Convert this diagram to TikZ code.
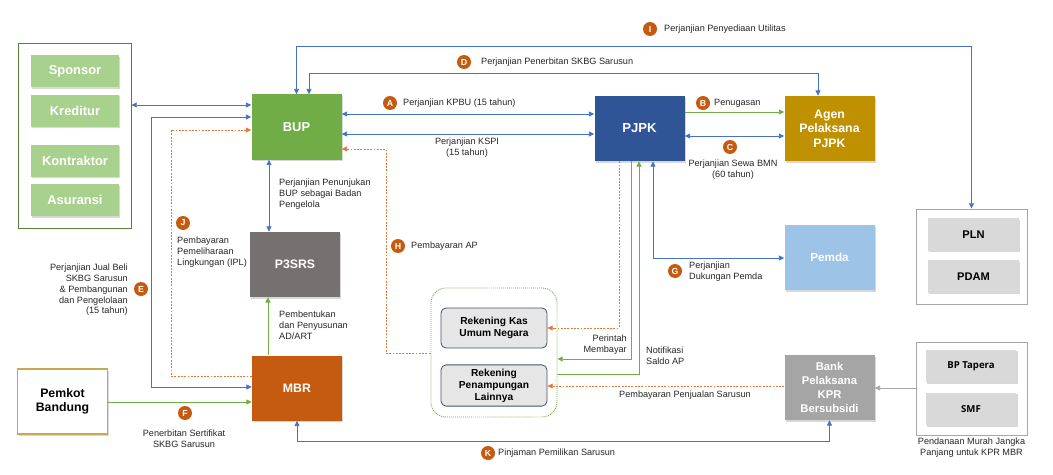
\documentclass[tikz,border=0pt]{standalone}
\usepackage{fontspec}
\setmainfont{Liberation Sans}
\newfontfamily\opensans{Open Sans}
\usepackage{tikz}
\usetikzlibrary{arrows.meta,shadows}
\definecolor{ink}{HTML}{262626}
\definecolor{bupc}{HTML}{70AD47}
\definecolor{subc}{HTML}{A9D18E}
\definecolor{grpc}{HTML}{548235}
\definecolor{pjpkc}{HTML}{2F5597}
\definecolor{agenc}{HTML}{BF9000}
\definecolor{pemdac}{HTML}{9DC3E6}
\definecolor{p3c}{HTML}{767171}
\definecolor{mbrc}{HTML}{C55A11}
\definecolor{bankc}{HTML}{A5A5A5}
\definecolor{utilc}{HTML}{D9D9D9}
\definecolor{framec}{HTML}{A6A6A6}
\definecolor{pemkotc}{HTML}{C9A94F}
\definecolor{rekc}{HTML}{E7E6E6}
\definecolor{rekln}{HTML}{44546A}
\definecolor{blueln}{HTML}{4472C4}
\definecolor{greenln}{HTML}{70AD47}
\definecolor{orangeln}{HTML}{E07A3A}
\definecolor{badgec}{HTML}{C55A11}
\tikzset{
  >={Triangle[length=4.5pt,width=4.2pt]},
  shade/.style={drop shadow={shadow xshift=1pt,shadow yshift=-1.3pt,opacity=0.3}},
  box/.style={shade, minimum width=2.7cm, minimum height=1.95cm, align=center, text=white,
    font=\fontsize{10.5}{12.4}\selectfont\bfseries},
  sub/.style={shade, fill=subc, minimum width=2.64cm, minimum height=0.96cm, text=white,
    font=\fontsize{11}{13}\selectfont\bfseries},
  util/.style={shade, fill=utilc, minimum width=2.72cm, minimum height=0.98cm, text=black,
    font=\fontsize{9.5}{11}\selectfont\bfseries},
  frame/.style={draw=framec, line width=0.8pt},
  rekbox/.style={draw=rekln, fill=rekc, line width=0.7pt, rounded corners=0.15cm,
    minimum width=3.18cm, align=center, font=\fontsize{8.7}{10.2}\selectfont\bfseries},
  badge/.style={circle, fill=badgec, text=white, inner sep=0pt, minimum size=0.42cm,
    font=\fontsize{7.5}{7.5}\selectfont\bfseries},
  lab/.style={text=ink, inner sep=0pt, font=\fontsize{7.8}{9.2}\selectfont},
  blu/.style={draw=blueln, line width=0.6pt},
  grn/.style={draw=greenln, line width=0.6pt},
  org/.style={draw=orangeln, line width=0.6pt, dash pattern=on 1.6pt off 1.2pt},
  gry/.style={draw=framec, line width=0.6pt},
}
\begin{document}
\begin{tikzpicture}[x=0.03cm,y=-0.03cm]
  \fill[white] (0,0) rectangle (1053,475);
  % frames
  \node[frame, draw=grpc, minimum width=3.39cm, minimum height=5.55cm] (grp) at (74.5,135.5) {};
  \node[frame, minimum width=3.33cm, minimum height=2.85cm] (util) at (971.5,256.5) {};
  \node[frame, minimum width=3.33cm, minimum height=2.79cm] (fund) at (971.5,388.5) {};
  \node[draw=bupc, line width=0.8pt, dash pattern=on 0.8pt off 0.9pt, rounded corners=0.45cm,
    minimum width=3.78cm, minimum height=3.87cm] (rek) at (494,352.5) {};
  \foreach \n/\t/\y in {spon/Sponsor/71, kred/Kreditur/110.5, kont/Kontraktor/160.5, asur/Asuransi/200}
    \node[sub] (\n) at (75,\y) {\t};
  \node[util] (PLN) at (973.5,234.5) {PLN};
  \node[util] (PDAM) at (973.5,276.5) {PDAM};
  \node[util, font=\opensans\fontsize{8.2}{10}\selectfont\bfseries] (tapera) at (971,366) {BP Tapera};
  \node[util, font=\opensans\fontsize{8.2}{10}\selectfont\bfseries] (SMF) at (971,409) {SMF};
  % main boxes
  \node[box, fill=bupc, font=\fontsize{11}{13}\selectfont\bfseries] (BUP) at (296.5,127) {BUP};
  \node[box, fill=pjpkc, font=\fontsize{11.2}{13}\selectfont\bfseries] (PJPK) at (639.5,128.5) {PJPK};
  \node[box, fill=agenc] (agen) at (829.5,128.5) {Agen\\Pelaksana\\PJPK};
  \node[box, fill=pemdac, font=\fontsize{10}{12}\selectfont\bfseries] (pemda) at (829.5,257.5) {Pemda};
  \node[box, fill=p3c] (P3SRS) at (295,264.5) {P3SRS};
  \node[box, fill=mbrc] (MBR) at (297,388) {MBR};
  \node[box, fill=bankc, font=\fontsize{9.6}{11.9}\selectfont\bfseries] (bank) at (829.5,387.5) {Bank\\Pelaksana\\KPR\\Bersubsidi};
  \node[box, fill=white, draw=pemkotc, line width=0.9pt, text=black] (pemkot) at (62.5,401.5) {Pemkot\\Bandung};
  \node[rekbox, minimum height=1.2cm] (kas) at (494,328) {Rekening Kas\\Umum Negara};
  \node[rekbox, minimum height=1.17cm] (pen) at (494,385.5) {Rekening\\Penampungan\\Lainnya};
  % connectors
  \draw[blu,<->] (grp.east |- 0,105) -- (BUP.west |- 0,105);
  \draw[blu,<->] (BUP.east |- 0,114) -- (PJPK.west |- 0,114);
  \draw[blu,<->] (BUP.east |- 0,134) -- (PJPK.west |- 0,134);
  \draw[grn,->] (PJPK.east |- 0,112) -- (agen.west |- 0,112);
  \draw[blu,<->] (PJPK.east |- 0,136) -- (agen.west |- 0,136);
  \draw[blu,<->] (BUP.north) -- (BUP.north |- 0,46) -| (util.north);
  \draw[blu,<->] (BUP.north -| 309,0) -- (309,73) -- (818,73) -- (agen.north -| 818,0);
  \draw[blu,<->] (MBR.west |- 0,387) -| (151,117) -- (BUP.west |- 0,117);
  \draw[org,->] (MBR.west |- 0,376) -| (171,130) -- (BUP.west |- 0,130);
  \draw[grn,->] (pemkot.east |- 0,402) -- (MBR.west |- 0,402);
  \draw[blu,<->] (BUP.south -| 269,0) -- (P3SRS.north -| 269,0);
  \draw[grn,->] (MBR.north -| 268,0) -- (P3SRS.south -| 268,0);
  \draw[blu,<->] (MBR.south) -- (MBR.south |- 0,441) -| (bank.south);
  \draw[org,->] (rek.west |- 0,353) -| (386,149) -- (BUP.east |- 0,149);
  \draw[org,->] (PJPK.south -| 619,0) |- (kas.east);
  \draw[grn,->] (PJPK.south -| 631,0) |- (rek.east |- 0,359);
  \draw[grn,->] (rek.east |- 0,374) -| (PJPK.south -| 639,0);
  \draw[blu,<->] (pemda.west |- 0,258) -| (PJPK.south -| 653,0);
  \draw[org,->] (bank.west |- 0,386) -- (pen.east |- 0,386);
  \draw[gry,->] (fund.west |- 0,388) -- (bank.east |- 0,388);
  % badges
  \foreach \l/\x/\y in {A/390/103, B/703/103, C/730/147, D/464/62, E/141/289, F/185/413,
      G/675/271, H/398/246, I/650/29, J/183/223, K/488/453}
    \node[badge] (b\l) at (\x,\y) {\l};
  % labels
  \node[lab, anchor=west] (tA) at (403,103) {Perjanjian KPBU (15 tahun)};
  \node[lab, anchor=west] (tB) at (714,103) {Penugasan};
  \node[lab, align=center] (tC) at (733,170) {Perjanjian Sewa BMN\\(60 tahun)};
  \node[lab, anchor=west] (tD) at (481,62) {Perjanjian Penerbitan SKBG Sarusun};
  \node[lab, align=right, anchor=east] (tE) at (128,290) {Perjanjian Jual Beli\\SKBG Sarusun\\\& Pembangunan\\dan Pengelolaan\\(15 tahun)};
  \node[lab, align=center] (tF) at (184,439) {Penerbitan Sertifikat\\SKBG Sarusun};
  \node[lab, align=left, anchor=west] (tG) at (689,272) {Perjanjian\\Dukungan Pemda};
  \node[lab, anchor=west] (tH) at (411,246) {Pembayaran AP};
  \node[lab, anchor=west] (tI) at (664,29) {Perjanjian Penyediaan Utilitas};
  \node[lab, align=left, anchor=west] (tJ) at (177,252) {Pembayaran\\Pemeliharaan\\Lingkungan (IPL)};
  \node[lab, anchor=west] (tK) at (498,453) {Pinjaman Pemilikan Sarusun};
  \node[lab, align=center] (tKSPI) at (467,148) {Perjanjian KSPI\\(15 tahun)};
  \node[lab, align=left, anchor=west] (tTunjuk) at (279,194) {Perjanjian Penunjukan\\BUP sebagai Badan\\Pengelola};
  \node[lab, align=left, anchor=west] (tBentuk) at (279,325) {Pembentukan\\dan Penyusunan\\AD/ART};
  \node[lab, align=right, anchor=east] (tPerintah) at (627,345) {Perintah\\Membayar};
  \node[lab, align=left, anchor=west] (tNotif) at (646,356) {Notifikasi\\Saldo AP};
  \node[lab] (tJual) at (685,395) {Pembayaran Penjualan Sarusun};
  \node[lab, align=center] (tFund) at (971.5,448) {Pendanaan Murah Jangka\\Panjang untuk KPR MBR};
\end{tikzpicture}
\end{document}
